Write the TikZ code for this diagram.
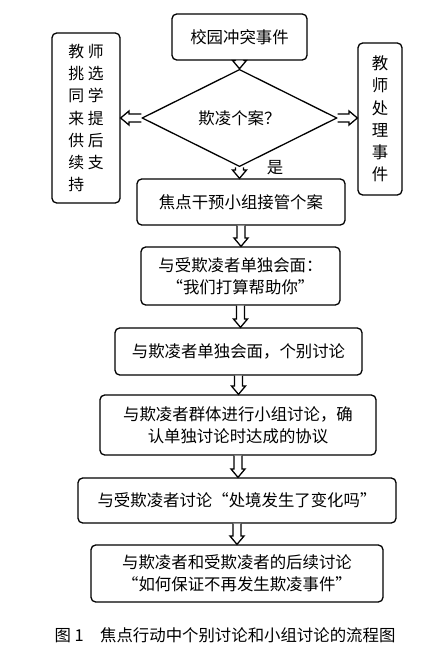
\documentclass[tikz,border=0pt]{standalone}
\usepackage{fontspec}
\setmainfont{Noto Sans CJK SC}
\usepackage{tikz}
\usetikzlibrary{arrows.meta, positioning, shapes.geometric, calc}
\tikzset{
  blk/.style ={rectangle, rounded corners=4pt, draw, line width=1.1pt, align=center, inner sep=2pt, font=\fontsize{14}{19}\selectfont},
  dec/.style ={diamond, draw, line width=1.1pt, align=center, inner sep=0pt, font=\fontsize{14}{19}\selectfont},
  holl/.style={draw, line width=1.1pt, fill=white, line join=miter},
  lbl/.style ={font=\fontsize{14}{19}\selectfont, inner sep=1pt},
}
% 空心箭头：向下 / 水平
\newcommand{\downarr}[2]{\draw[holl] let \p1=(#1), \p2=(#2) in
  (\x1-0.12cm,\y1) -- (\x1-0.12cm,\y2+0.25cm) -- (\x1-0.21cm,\y2+0.25cm) -- (\x1,\y2)
  -- (\x1+0.21cm,\y2+0.25cm) -- (\x1+0.12cm,\y2+0.25cm) -- (\x1+0.12cm,\y1);}
\newcommand{\sidearr}[2]{\draw[holl] let \p1=(#1), \p2=(#2), \n1={sign(\x2-\x1)} in
  (\x1,\y1+0.12cm) -- (\x2-\n1*0.25cm,\y1+0.12cm) -- (\x2-\n1*0.25cm,\y1+0.21cm) -- (\x2,\y1)
  -- (\x2-\n1*0.25cm,\y1-0.21cm) -- (\x2-\n1*0.25cm,\y1-0.12cm) -- (\x1,\y1-0.12cm);}
\begin{document}
\begin{tikzpicture}[
    side/.style={blk, align=left, font=\fontsize{13.5}{18.8}\selectfont},
    figcap/.style={font=\fontsize{14}{16}\selectfont, inner sep=0pt}
]
\useasboundingbox (0,0) rectangle (13.14,-20.04);

% 上部：事件与判断
\node[blk, minimum width=4.05cm, minimum height=1.38cm] (event) at (7.185,-1.11) {校园冲突事件};
\node[dec, minimum width=5.85cm, minimum height=2.25cm] (isbully) at (7.185,-3.54) {欺凌个案？};
\node[side, minimum width=2.04cm, minimum height=5.1cm] (peer) at (2.58,-3.54) {教 师\\挑 选\\同 学\\来 提\\供 后\\续 支\\持};
\node[blk, minimum width=1.32cm, minimum height=4.56cm] (teacher) at (11.4,-3.57) {教\\师\\处\\理\\事\\件};

% 焦点干预流程
\node[blk, minimum width=6.24cm, minimum height=1.38cm] (takeover) at (7.23,-6.06) {焦点干预小组接管个案};
\node[blk, minimum width=5.97cm, minimum height=1.74cm] (meetvic) at (7.215,-8.28) {与受欺凌者单独会面：\\“我们打算帮助你”};
\node[blk, minimum width=7.41cm, minimum height=1.41cm] (meetbul) at (7.155,-10.545) {与欺凌者单独会面，个别讨论};
\node[blk, minimum width=8.28cm, minimum height=1.80cm] (group) at (7.14,-12.75) {与欺凌者群体进行小组讨论，确\\认单独讨论时达成的协议};
\node[blk, minimum width=9.54cm, minimum height=1.35cm] (askvic) at (7.11,-15.015) {与受欺凌者讨论“处境发生了变化吗”};
\node[blk, minimum width=8.76cm, minimum height=1.71cm] (follow) at (7.11,-17.205) {与欺凌者和受欺凌者的后续讨论\\“如何保证不再发生欺凌事件”};

% 图题
\node[figcap] (caption) at (6.75,-19.05) {图 1\quad 焦点行动中个别讨论和小组讨论的流程图};

% 连接箭头
\downarr{event.south}{event.south |- isbully.north}
\sidearr{isbully.west}{isbully.west -| peer.east}
\sidearr{isbully.east}{isbully.east -| teacher.west}
\downarr{isbully.south}{isbully.south |- takeover.north}
\node[lbl] (yes) at (8.25,-5.04) {是};
\downarr{takeover.south}{takeover.south |- meetvic.north}
\downarr{meetvic.south}{meetvic.south |- meetbul.north}
\downarr{meetbul.south}{meetbul.south |- group.north}
\downarr{group.south}{group.south |- askvic.north}
\downarr{askvic.south}{askvic.south |- follow.north}

\end{tikzpicture}
\end{document}
